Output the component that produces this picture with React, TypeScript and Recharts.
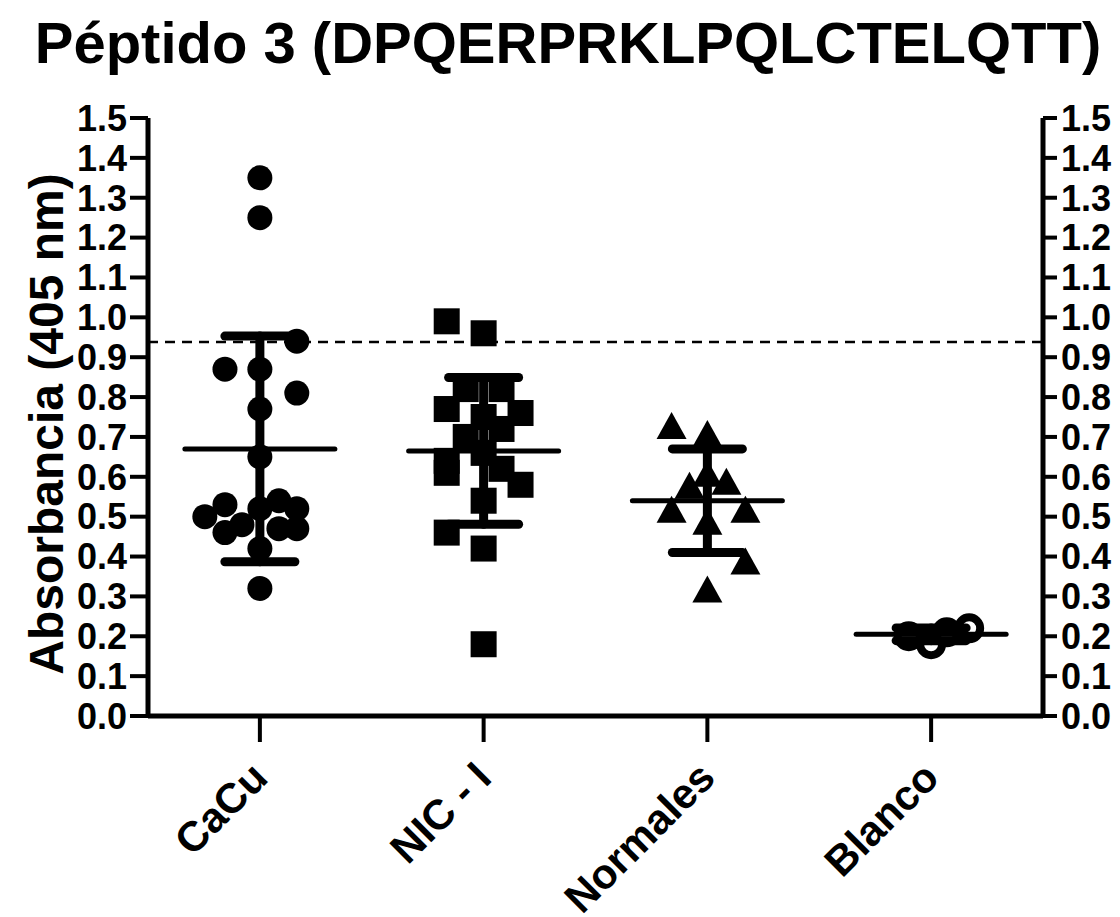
import React from 'react';
import { ScatterChart, Scatter, XAxis, YAxis, ReferenceLine, ErrorBar } from 'recharts';

const categories = ['CaCu', 'NIC - I', 'Normales', 'Blanco'];
const categoryPositions = [1, 2, 3, 4];
const yTicks = [0, 0.1, 0.2, 0.3, 0.4, 0.5, 0.6, 0.7, 0.8, 0.9, 1.0, 1.1, 1.2, 1.3, 1.4, 1.5];

const cacuValues = [1.35, 1.25, 0.94, 0.87, 0.87, 0.81, 0.77, 0.65, 0.50, 0.53, 0.46, 0.48, 0.52, 0.54, 0.52, 0.47, 0.47, 0.42, 0.32];
const cacuJitter = [0, 0, 0.165, -0.156, 0, 0.165, 0, 0, -0.246, -0.156, -0.156, -0.08, 0, 0.085, 0.165, 0.165, 0.085, 0, 0];

const nicValues = [0.99, 0.96, 0.82, 0.82, 0.77, 0.76, 0.75, 0.72, 0.70, 0.66, 0.64, 0.62, 0.61, 0.58, 0.54, 0.46, 0.42, 0.18];
const nicJitter = [-0.165, 0, -0.08, 0.08, -0.165, 0.165, 0, 0.08, -0.08, 0, -0.165, 0.08, -0.165, 0.165, 0, -0.165, 0, 0];

const normalesValues = [0.72, 0.70, 0.60, 0.58, 0.57, 0.51, 0.51, 0.48, 0.38, 0.31];
const normalesJitter = [-0.16, 0, 0, 0.085, -0.08, -0.16, 0.17, 0, 0.17, 0];

const blancoValues = [0.20, 0.18, 0.21, 0.22];
const blancoJitter = [-0.1, 0, 0.07, 0.17];

const groupMeans = [0.67, 0.665, 0.54, 0.205];
const groupSD = [0.283, 0.184, 0.13, 0.016];

const cutoff = 0.938;

const FONT = '"Liberation Sans", Arial, sans-serif';

const build = (vals: number[], jit: number[], pos: number) =>
  vals.map((v, i) => ({ x: pos + jit[i], y: v }));

const cacuData = build(cacuValues, cacuJitter, categoryPositions[0]);
const nicData = build(nicValues, nicJitter, categoryPositions[1]);
const normalesData = build(normalesValues, normalesJitter, categoryPositions[2]);
const blancoData = build(blancoValues, blancoJitter, categoryPositions[3]);
const summaryData = categoryPositions.map((p, i) => ({ x: p, y: groupMeans[i], sd: groupSD[i] }));

const CircleShape = (props: any) => <circle cx={props.cx} cy={props.cy} r={12.5} fill="#000" />;
const SquareShape = (props: any) => (
  <rect x={props.cx - 13} y={props.cy - 13} width={26} height={26} fill="#000" />
);
const TriangleShape = (props: any) => {
  const { cx, cy } = props;
  return <polygon points={`${cx},${cy - 17} ${cx + 15},${cy + 10} ${cx - 15},${cy + 10}`} fill="#000" />;
};
const OpenCircleShape = (props: any) => (
  <circle cx={props.cx} cy={props.cy} r={11} fill="#fff" stroke="#000" strokeWidth={8} />
);
const MeanShape = (props: any) => (
  <line x1={props.cx - 75} x2={props.cx + 75} y1={props.cy} y2={props.cy} stroke="#000" strokeWidth={5} strokeLinecap="round" />
);
const NoShape = () => <g />;

const XTick = (props: any) => {
  const { x, y, payload } = props;
  const idx = categoryPositions.indexOf(payload.value);
  const ax = x + 10;
  const ay = y + 38;
  return (
    <text
      x={ax}
      y={ay}
      textAnchor="end"
      transform={`rotate(-45, ${ax}, ${ay})`}
      fontFamily={FONT}
      fontWeight="bold"
      fontSize={42}
      fill="#000"
    >
      {idx >= 0 ? categories[idx] : ''}
    </text>
  );
};

const tickStyle = { fontFamily: FONT, fontWeight: 'bold', fontSize: 36, fill: '#000' };

const YLabel = () => (
  <text
    x={46}
    y={424}
    transform="rotate(-90, 46, 424)"
    textAnchor="middle"
    dominantBaseline="central"
    fontFamily={FONT}
    fontWeight="bold"
    fontSize={48}
    fill="#000"
  >
    Absorbancia (405 nm)
  </text>
);

export default function App() {
  return (
    <div style={{ position: 'absolute', left: 0, top: 0, width: 1120, height: 917, background: '#fff' }}>
      <div
        style={{
          position: 'absolute',
          left: 0,
          top: 14,
          width: 1136,
          textAlign: 'center',
          fontFamily: FONT,
          fontWeight: 'bold',
          fontSize: 58,
          lineHeight: '58px',
          color: '#000',
          whiteSpace: 'nowrap',
        }}
      >
        Péptido 3 (DPQERPRKLPQLCTELQTT)
      </div>
      <ScatterChart width={1120} height={917} margin={{ top: 118, right: 0, bottom: 0, left: 0 }}>
        <XAxis
          type="number"
          dataKey="x"
          domain={[0.5, 4.5]}
          ticks={categoryPositions}
          interval={0}
          height={201}
          tickSize={26}
          tickMargin={0}
          tick={<XTick />}
          axisLine={{ stroke: '#000', strokeWidth: 5 }}
          tickLine={{ stroke: '#000', strokeWidth: 4 }}
        />
        <YAxis
          yAxisId="left"
          type="number"
          dataKey="y"
          orientation="left"
          width={148}
          domain={[0, 1.5]}
          ticks={yTicks}
          interval={0}
          tickFormatter={(v: number) => v.toFixed(1)}
          tickSize={18}
          tickMargin={3}
          tick={tickStyle}
          axisLine={{ stroke: '#000', strokeWidth: 5 }}
          tickLine={{ stroke: '#000', strokeWidth: 4 }}
          label={<YLabel />}
        />
        <YAxis
          yAxisId="right"
          type="number"
          dataKey="y"
          orientation="right"
          width={77}
          domain={[0, 1.5]}
          ticks={yTicks}
          interval={0}
          tickFormatter={(v: number) => v.toFixed(1)}
          tickSize={14}
          tickMargin={4}
          tick={tickStyle}
          axisLine={{ stroke: '#000', strokeWidth: 5 }}
          tickLine={{ stroke: '#000', strokeWidth: 4 }}
        />
        <ReferenceLine
          yAxisId="left"
          y={cutoff}
          stroke="#000"
          strokeWidth={2.5}
          strokeDasharray="10 7"
        />
        <Scatter yAxisId="right" data={summaryData} shape={<NoShape />} isAnimationActive={false} />
        <Scatter yAxisId="left" data={cacuData} shape={<CircleShape />} isAnimationActive={false} />
        <Scatter yAxisId="left" data={nicData} shape={<SquareShape />} isAnimationActive={false} />
        <Scatter yAxisId="left" data={normalesData} shape={<TriangleShape />} isAnimationActive={false} />
        <Scatter yAxisId="left" data={blancoData} shape={<OpenCircleShape />} isAnimationActive={false} />
        <Scatter yAxisId="left" data={summaryData} shape={<MeanShape />} isAnimationActive={false} zIndex={800}>
          <ErrorBar
            dataKey="sd"
            direction="y"
            width={35}
            stroke="#000"
            strokeWidth={9}
            strokeLinecap="round"
            isAnimationActive={false}
            zIndex={900}
          />
        </Scatter>
      </ScatterChart>
    </div>
  );
}
